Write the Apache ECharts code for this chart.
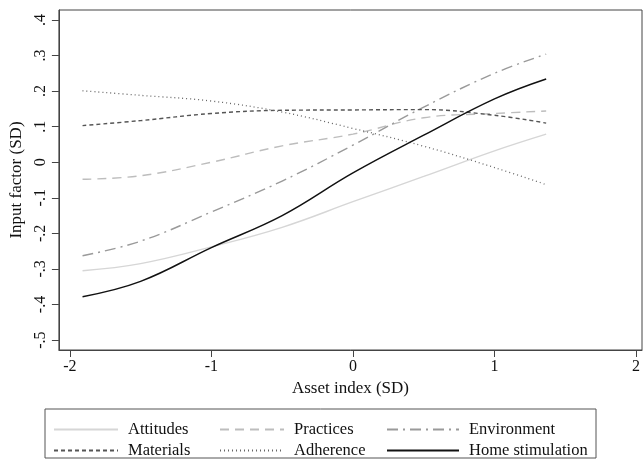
<!DOCTYPE html>
<html>
<head>
<meta charset="utf-8">
<script src="https://cdn.jsdelivr.net/npm/echarts@6/dist/echarts.min.js"></script>
<style>
  html, body { margin: 0; padding: 0; background: #fff; }
  #main { width: 643px; height: 462px; }
</style>
</head>
<body>
<div id="main"></div>
<script>
// asset index positions where each curve was read
var assetIdx = [-1.91, -1.5, -1.0, -0.5, 0.0, 0.5, 1.0, 1.365];

var attitudes   = [-0.305, -0.285, -0.238, -0.183, -0.111, -0.040, 0.032, 0.079];
var practices   = [-0.048, -0.038, 0.000, 0.046, 0.079, 0.125, 0.137, 0.144];
var environment = [-0.263, -0.222, -0.140, -0.053, 0.048, 0.155, 0.250, 0.304];
var materials   = [0.103, 0.117, 0.137, 0.146, 0.147, 0.148, 0.132, 0.110];
var adherence   = [0.201, 0.188, 0.172, 0.141, 0.095, 0.045, -0.015, -0.063];
var homeStim    = [-0.378, -0.335, -0.240, -0.150, -0.030, 0.076, 0.178, 0.234];

var xTicks = [-2, -1, 0, 1, 2];
var yTicks = [-0.5, -0.4, -0.3, -0.2, -0.1, 0, 0.1, 0.2, 0.3, 0.4];

var FONT = 'Liberation Serif';

function pairs(ys) {
    return assetIdx.map(function (x, i) { return [x, ys[i]]; });
}

// stata style numbers: .4, -.1, 0
function stataNum(v) {
    if (Math.abs(v) < 1e-9) return '0';
    var s = String(Math.abs(Math.round(v * 10) / 10)).replace(/^0/, '');
    return (v < 0 ? '-' : '') + s;
}

var seriesDefs = [
    { name: 'Attitudes', data: attitudes, color: '#d6d6d6', type: 'solid', width: 1.4 },
    { name: 'Practices', data: practices, color: '#bdbdbd', type: [9, 6], width: 1.4 },
    { name: 'Environment', data: environment, color: '#9a9a9a', type: [11, 5, 2, 5], width: 1.4 },
    { name: 'Materials', data: materials, color: '#555555', type: [4, 3], width: 1.4 },
    { name: 'Adherence', data: adherence, color: '#666666', type: [1, 3], width: 1.3 },
    { name: 'Home stimulation', data: homeStim, color: '#111111', type: 'solid', width: 1.5 }
];

// legend grid: 3 columns x 2 rows
var legCols = [53, 219, 386];
var legWidths = [64, 64, 72];
var legRows = [421, 442];
var legends = seriesDefs.map(function (s, i) {
    return {
        data: [s.name],
        left: legCols[i % 3],
        top: legRows[Math.floor(i / 3)],
        padding: 0,
        itemWidth: legWidths[i % 3],
        itemHeight: 14,
        itemGap: 0,
        selectedMode: false,
        itemStyle: { opacity: 0 },
        textStyle: { fontFamily: FONT, fontSize: 16.5, color: '#111', padding: [0, 0, 0, 5] }
    };
});

var myChart = echarts.init(document.getElementById('main'));

var option = {
    backgroundColor: '#fff',
    animation: false,
    grid: {
        left: 53, top: 10, width: 590, height: 340,
        show: true, borderColor: '#444', borderWidth: 1
    },
    xAxis: {
        type: 'value',
        min: -2.077, max: 2.042,
        name: 'Asset index (SD)',
        nameLocation: 'middle',
        nameGap: 21,
        nameTextStyle: { fontFamily: FONT, fontSize: 17, color: '#111' },
        axisLine: { onZero: false, lineStyle: { color: '#444', width: 1 } },
        axisTick: { customValues: xTicks, inside: false, length: 7, lineStyle: { color: '#444' } },
        axisLabel: { customValues: xTicks, fontFamily: FONT, fontSize: 16, color: '#111', margin: 9 },
        splitLine: { show: false }
    },
    yAxis: {
        type: 'value',
        min: -0.528, max: 0.428,
        name: 'Input factor (SD)',
        nameLocation: 'middle',
        nameGap: 32,
        nameTextStyle: { fontFamily: FONT, fontSize: 17, color: '#111' },
        axisLine: { show: true, onZero: false, lineStyle: { color: '#444', width: 1 } },
        axisTick: { show: true, inside: false, customValues: yTicks, length: 7, lineStyle: { color: '#444' } },
        axisLabel: {
            customValues: yTicks, rotate: 90, fontFamily: FONT, fontSize: 16, color: '#111', margin: 10,
            formatter: stataNum
        },
        splitLine: { show: false }
    },
    legend: legends,
    graphic: [{
        type: 'rect',
        shape: { x: 45, y: 409, width: 551, height: 49 },
        style: { fill: 'none', stroke: '#555', lineWidth: 1 }
    }],
    series: seriesDefs.map(function (s) {
        return {
            name: s.name,
            type: 'line',
            smooth: 0.4,
            symbol: 'none',
            data: pairs(s.data),
            lineStyle: { color: s.color, type: s.type, width: s.width },
            itemStyle: { color: s.color }
        };
    })
};

myChart.setOption(option);
</script>
</body>
</html>
